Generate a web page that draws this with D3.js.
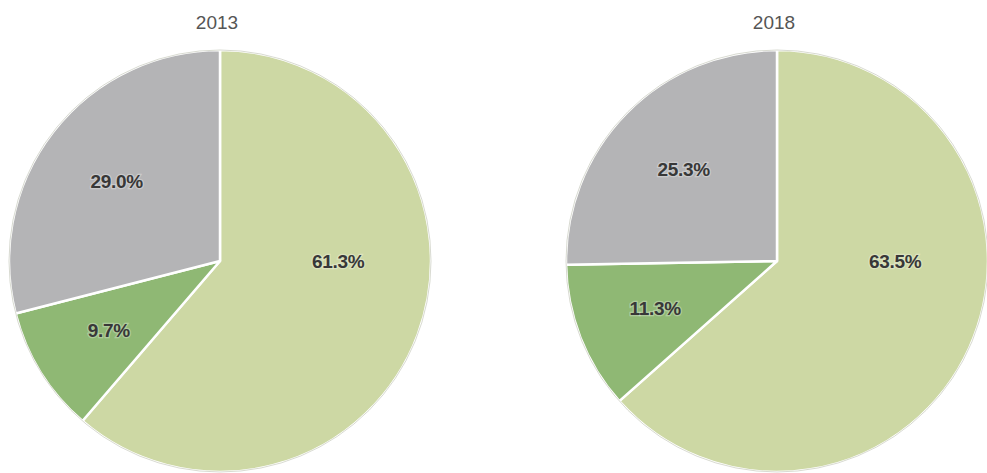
<!DOCTYPE html>
<html>
<head>
<meta charset="utf-8">
<script src="https://cdn.jsdelivr.net/npm/d3@7"></script>
<style>
  html, body { margin: 0; padding: 0; background: #fff; }
  svg { display: block; }
</style>
</head>
<body>
<svg id="chart" width="987" height="473"></svg>
<script>
// Share of each group, per year (slices drawn clockwise from 12 o'clock)
const categories = ["A", "B", "C"];
const years = ["2013", "2018"];
const values2013 = [61.3, 9.7, 29.0];
const values2018 = [63.5, 11.3, 25.3];
const colors = ["#cdd8a4", "#8fb874", "#b4b4b6"];

const svg = d3.select("#chart");
const radius = 211;
const centers = [[220, 261], [777, 261]];
const seriesList = [values2013, values2018];

const color = d3.scaleOrdinal().domain(categories).range(colors);
const pie = d3.pie().sort(null).value(d => d.value);
const arc = d3.arc().innerRadius(0).outerRadius(radius);

// Large slices carry their label near 3 o'clock; others sit on their mid angle
function labelPos(d) {
  const big = d.endAngle - d.startAngle > Math.PI;
  const a = big ? Math.PI / 2 : (d.startAngle + d.endAngle) / 2;
  const r = big ? radius * 0.56 : radius * 0.62;
  return [Math.sin(a) * r, -Math.cos(a) * r];
}

seriesList.forEach((vals, i) => {
  const data = categories.map((c, k) => ({ cat: c, value: vals[k] }));
  const g = svg.append("g").attr("transform", `translate(${centers[i][0]},${centers[i][1]})`);

  g.append("text")
    .attr("x", -3)
    .attr("y", -radius - 3 - 18)
    .attr("text-anchor", "middle")
    .attr("font-family", "Liberation Sans, Arial, sans-serif")
    .attr("font-size", 19)
    .attr("fill", "#555")
    .text(years[i]);

  const arcs = pie(data);

  g.selectAll("path.slice")
    .data(arcs)
    .join("path")
    .attr("class", "slice")
    .attr("d", arc)
    .attr("fill", d => color(d.data.cat))
    .attr("stroke", "#fff")
    .attr("stroke-width", 2.5)
    .attr("stroke-linejoin", "round");

  // thin soft rim around the pie
  g.append("circle")
    .attr("r", radius)
    .attr("fill", "none")
    .attr("stroke", "#a9ad9a")
    .attr("stroke-opacity", 0.45)
    .attr("stroke-width", 1);

  g.selectAll("text.lbl")
    .data(arcs)
    .join("text")
    .attr("class", "lbl")
    .attr("transform", d => `translate(${labelPos(d)})`)
    .attr("text-anchor", "middle")
    .attr("dy", "0.36em")
    .attr("font-family", "Liberation Sans, Arial, sans-serif")
    .attr("font-weight", "bold")
    .attr("font-size", 19)
    .attr("letter-spacing", -0.3)
    .attr("fill", "#383838")
    .attr("stroke", "rgba(255,255,255,0.3)")
    .attr("stroke-width", 2.5)
    .attr("paint-order", "stroke")
    .text(d => d.data.value.toFixed(1) + "%");
});
</script>
</body>
</html>
